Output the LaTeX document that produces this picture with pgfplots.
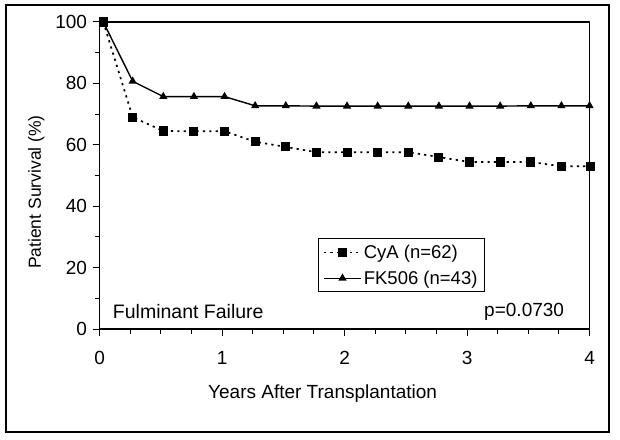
\documentclass[border=0pt]{standalone}
\usepackage{fontspec}
\setmainfont{Liberation Sans}
\usepackage{pgfplots}
\pgfplotsset{compat=1.18}
\begin{document}
\begin{tikzpicture}[x=1pt,y=1pt]
\useasboundingbox (0,0) rectangle (620,439);
\draw[line width=1.8pt] (6,7) rectangle (609,434);
\begin{axis}[
  scale only axis,
  width=490pt, height=307pt,
  at={(99.6pt,110pt)}, anchor=south west,
  xmin=0, xmax=4, ymin=0, ymax=100,
  axis line style={line width=1.1pt},
  xtick={0,1,2,3,4}, ytick={0,20,40,60,80,100},
  minor xtick={0.25,0.5,0.75,1.25,1.5,1.75,2.25,2.5,2.75,3.25,3.5,3.75},
  minor ytick={10,30,50,70,90},
  tick align=outside, tick pos=left,
  major tick length=7pt, minor tick length=5pt,
  every tick/.style={black, line width=1pt},
  /pgf/number format/assume math mode=true,
  tick label style={font=\fontsize{19}{21}\selectfont},
  xticklabel style={yshift=-12pt},
  yticklabel style={xshift=-2pt},
  xlabel={Years After Transplantation},
  ylabel={Patient Survival (\%)},
  xlabel style={font=\fontsize{19}{21}\selectfont, yshift=-13pt, xshift=-22pt},
  every axis y label/.append style={at={(ticklabel cs:0.446)}, font=\fontsize{17.5}{20}\selectfont, yshift=4pt},
  clip=false,
  legend style={at={(axis cs:1.78,29.5)}, anchor=north west, draw=black, line width=1pt,
    font=\fontsize{18.5}{20}\selectfont, row sep=7pt, inner xsep=5pt, inner ysep=4pt,
    cells={anchor=west}},
  legend image code/.code={\draw[mark repeat=2,mark phase=2,#1] plot coordinates {(0cm,0cm)(0.65cm,0cm)(1.3cm,0cm)};},
]
\addplot[black, line width=1.7pt, dash pattern=on 2.2pt off 4.2pt, mark=square*, mark size=3.7pt, mark options={solid}] coordinates {
(0.03,100)(0.27,69)(0.52,64.5)(0.77,64.4)(1.02,64.4)(1.27,61)(1.52,59.3)(1.77,57.6)(2.02,57.6)(2.27,57.6)(2.52,57.6)(2.77,56)(3.02,54.4)(3.27,54.4)(3.52,54.4)(3.77,53)(4.01,53)
};
\addlegendentry{CyA (n=62)}
\addplot[black, line width=1.4pt, mark=triangle*, mark size=3.4pt] coordinates {
(0.03,100)(0.27,80.7)(0.52,75.7)(0.77,75.7)(1.02,75.7)(1.27,72.7)(1.52,72.7)(1.77,72.6)(2.02,72.6)(2.27,72.6)(2.52,72.6)(2.77,72.6)(3.02,72.6)(3.27,72.6)(3.52,72.7)(3.77,72.7)(4.0,72.7)
};
\addlegendentry{FK506 (n=43)}
\node[anchor=west, font=\fontsize{19.5}{21}\selectfont] at (axis cs:0.08,5.6) {Fulminant Failure};
\node[anchor=east, font=\fontsize{19}{21}\selectfont] at (axis cs:3.82,5.6) {p=0.0730};
\end{axis}
\end{tikzpicture}
\end{document}
